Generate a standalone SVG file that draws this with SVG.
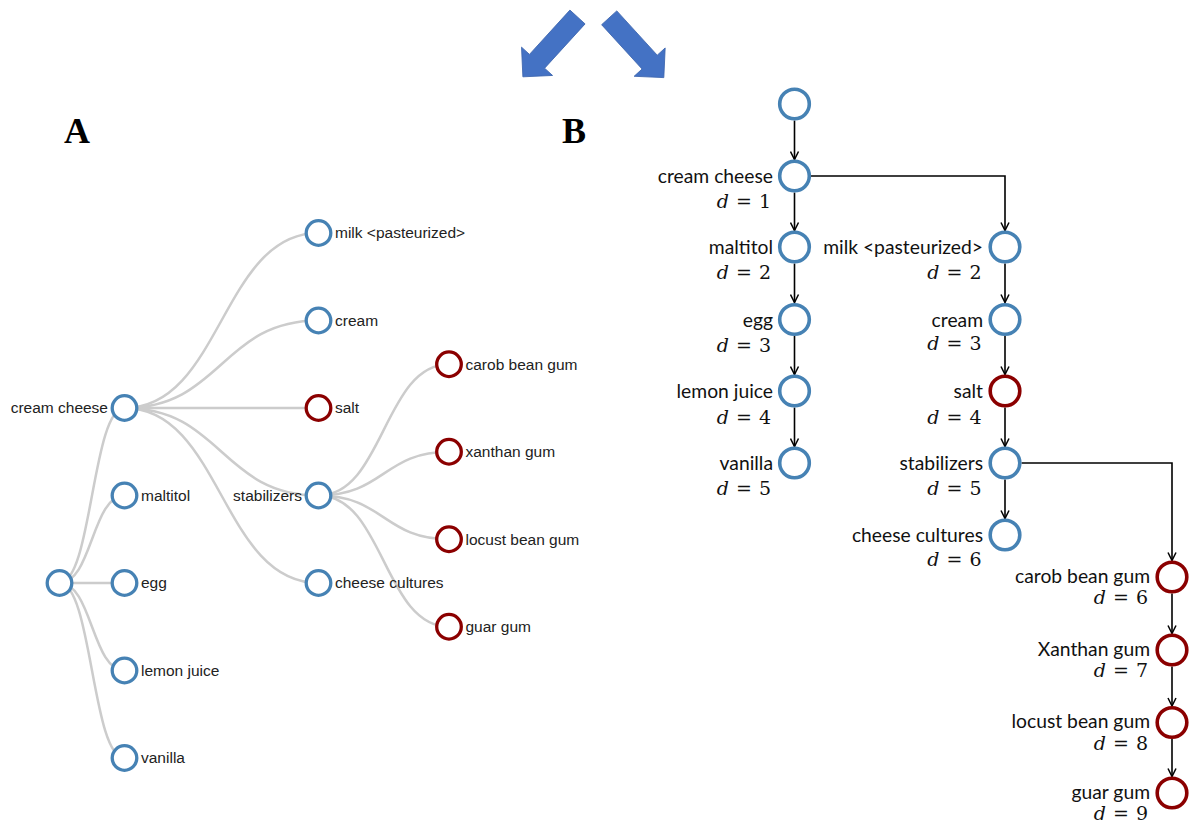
<svg xmlns="http://www.w3.org/2000/svg" width="1190" height="823" viewBox="0 0 1190 823">
<defs>
<style>
.bg{fill:#fff}
.lnk{fill:none;stroke:#ccc;stroke-width:2.5}
.na{fill:#fff;stroke:#4682b4;stroke-width:3.3}
.ra{fill:#fff;stroke:#8b0000;stroke-width:3.3}
.ta{font-family:"Liberation Sans",Arial,sans-serif;font-size:15.5px;fill:#222}
.nb{fill:#fff;stroke:#4682b4;stroke-width:3.6}
.rb{fill:#fff;stroke:#8b0000;stroke-width:3.6}
.tb{font-family:Lato,"Open Sans",sans-serif;font-size:19.3px;fill:#111;text-anchor:end}
.db{font-family:"DejaVu Serif","Liberation Serif",serif;font-size:19px;fill:#111;text-anchor:end;word-spacing:1px}
.db tspan{font-style:italic}
.edge{fill:none;stroke:#000;stroke-width:1.6;marker-end:url(#ah)}
.big{fill:#4472c4;stroke:#3b64ad;stroke-width:0.8}
.lab{font-family:"Liberation Serif","Times New Roman",serif;font-weight:bold;font-size:36px;fill:#000}
</style>
<marker id="ah" markerWidth="10" markerHeight="10" refX="9" refY="5" orient="auto" markerUnits="userSpaceOnUse" viewBox="0 0 10 10">
<path d="M1,1 L9,5 L1,9" fill="none" stroke="#000" stroke-width="1.5"/>
</marker>
<polygon id="bigArrow" points="-10.25,0 10.25,0 10.25,60 21,60 0,81 -21,60 -10.25,60"/>
</defs>
<rect class="bg" x="0" y="0" width="1190" height="823"/>

<g id="top-arrows">
<use href="#bigArrow" class="big" transform="translate(577.5,17) rotate(42.4)"/>
<use href="#bigArrow" class="big" transform="translate(609.2,17.8) rotate(-42.4)"/>
</g>

<text class="lab" x="64" y="143">A</text>
<text class="lab" x="562" y="143">B</text>

<!-- Panel A links -->
<g id="links-a">
<path class="lnk" d="M59.5,583 C92,583 92,408 124.5,408"/>
<path class="lnk" d="M59.5,583 C92,583 92,495.5 124.5,495.5"/>
<path class="lnk" d="M59.5,583 L124.5,583"/>
<path class="lnk" d="M59.5,583 C92,583 92,670.5 124.5,670.5"/>
<path class="lnk" d="M59.5,583 C92,583 92,758 124.5,758"/>
<path class="lnk" d="M124.5,408 C221.5,408 221.5,233 318.5,233"/>
<path class="lnk" d="M124.5,408 C221.5,408 221.5,320.5 318.5,320.5"/>
<path class="lnk" d="M124.5,408 L318.5,408"/>
<path class="lnk" d="M124.5,408 C221.5,408 221.5,495.5 318.5,495.5"/>
<path class="lnk" d="M124.5,408 C221.5,408 221.5,583 318.5,583"/>
<path class="lnk" d="M318.5,495.5 C383.75,495.5 383.75,364.25 449,364.25"/>
<path class="lnk" d="M318.5,495.5 C383.75,495.5 383.75,451.75 449,451.75"/>
<path class="lnk" d="M318.5,495.5 C383.75,495.5 383.75,539.25 449,539.25"/>
<path class="lnk" d="M318.5,495.5 C383.75,495.5 383.75,626.75 449,626.75"/>
</g>

<!-- Panel A nodes -->
<g id="a-root"><circle class="na" cx="59.5" cy="583" r="12.3"/></g>
<g id="a-cream-cheese"><circle class="na" cx="124.5" cy="408" r="12.3"/><text class="ta" x="108" y="408" dy="0.35em" text-anchor="end">cream cheese</text></g>
<g id="a-maltitol"><circle class="na" cx="124.5" cy="495.5" r="12.3"/><text class="ta" x="141" y="495.5" dy="0.35em">maltitol</text></g>
<g id="a-egg"><circle class="na" cx="124.5" cy="583" r="12.3"/><text class="ta" x="141" y="583" dy="0.35em">egg</text></g>
<g id="a-lemon-juice"><circle class="na" cx="124.5" cy="670.5" r="12.3"/><text class="ta" x="141" y="670.5" dy="0.35em">lemon juice</text></g>
<g id="a-vanilla"><circle class="na" cx="124.5" cy="758" r="12.3"/><text class="ta" x="141" y="758" dy="0.35em">vanilla</text></g>
<g id="a-milk"><circle class="na" cx="318.5" cy="233" r="12.3"/><text class="ta" x="335" y="233" dy="0.35em">milk &lt;pasteurized&gt;</text></g>
<g id="a-cream"><circle class="na" cx="318.5" cy="320.5" r="12.3"/><text class="ta" x="335" y="320.5" dy="0.35em">cream</text></g>
<g id="a-salt"><circle class="ra" cx="318.5" cy="408" r="12.3"/><text class="ta" x="335" y="408" dy="0.35em">salt</text></g>
<g id="a-stabilizers"><circle class="na" cx="318.5" cy="495.5" r="12.3"/><text class="ta" x="302" y="495.5" dy="0.35em" text-anchor="end">stabilizers</text></g>
<g id="a-cheese-cultures"><circle class="na" cx="318.5" cy="583" r="12.3"/><text class="ta" x="335" y="583" dy="0.35em">cheese cultures</text></g>
<g id="a-carob"><circle class="ra" cx="449" cy="364.25" r="12.3"/><text class="ta" x="465.5" y="364.25" dy="0.35em">carob bean gum</text></g>
<g id="a-xanthan"><circle class="ra" cx="449" cy="451.75" r="12.3"/><text class="ta" x="465.5" y="451.75" dy="0.35em">xanthan gum</text></g>
<g id="a-locust"><circle class="ra" cx="449" cy="539.25" r="12.3"/><text class="ta" x="465.5" y="539.25" dy="0.35em">locust bean gum</text></g>
<g id="a-guar"><circle class="ra" cx="449" cy="626.75" r="12.3"/><text class="ta" x="465.5" y="626.75" dy="0.35em">guar gum</text></g>

<!-- Panel B connectors -->
<g id="links-b">
<path class="edge" d="M794.5,120.5 V159.5"/>
<path class="edge" d="M794.5,192.5 V230.5"/>
<path class="edge" d="M794.5,263.5 V302.5"/>
<path class="edge" d="M794.5,336 V374.5"/>
<path class="edge" d="M794.5,407.5 V446.5"/>
<path class="edge" d="M811,176 H1005 V230.5"/>
<path class="edge" d="M1005,263.5 V302.5"/>
<path class="edge" d="M1005,336 V374.5"/>
<path class="edge" d="M1005,407.5 V446.5"/>
<path class="edge" d="M1005,479.5 V518.5"/>
<path class="edge" d="M1021.5,463 H1172 V560.5"/>
<path class="edge" d="M1172,593.5 V633.5"/>
<path class="edge" d="M1172,666.5 V706"/>
<path class="edge" d="M1172,739 V776.5"/>
</g>

<!-- Panel B nodes -->
<g id="b-root"><circle class="nb" cx="794.5" cy="104" r="14.8"/></g>
<g id="b-cream-cheese"><circle class="nb" cx="794.5" cy="176" r="14.8"/><text class="tb" x="773" y="183">cream cheese</text><text class="db" x="771" y="208"><tspan>d</tspan> = 1</text></g>
<g id="b-maltitol"><circle class="nb" cx="794.5" cy="247" r="14.8"/><text class="tb" x="773" y="254">maltitol</text><text class="db" x="771" y="279"><tspan>d</tspan> = 2</text></g>
<g id="b-egg"><circle class="nb" cx="794.5" cy="319.5" r="14.8"/><text class="tb" x="773" y="326.5">egg</text><text class="db" x="771" y="352"><tspan>d</tspan> = 3</text></g>
<g id="b-lemon-juice"><circle class="nb" cx="794.5" cy="391" r="14.8"/><text class="tb" x="773" y="398">lemon juice</text><text class="db" x="771" y="423.5"><tspan>d</tspan> = 4</text></g>
<g id="b-vanilla"><circle class="nb" cx="794.5" cy="463" r="14.8"/><text class="tb" x="773" y="470">vanilla</text><text class="db" x="771" y="495"><tspan>d</tspan> = 5</text></g>
<g id="b-milk"><circle class="nb" cx="1005" cy="247" r="14.8"/><text class="tb" x="983" y="254">milk &lt;pasteurized&gt;</text><text class="db" x="981.5" y="279"><tspan>d</tspan> = 2</text></g>
<g id="b-cream"><circle class="nb" cx="1005" cy="319.5" r="14.8"/><text class="tb" x="983" y="326.5">cream</text><text class="db" x="981.5" y="350"><tspan>d</tspan> = 3</text></g>
<g id="b-salt"><circle class="rb" cx="1005" cy="391" r="14.8"/><text class="tb" x="983" y="398">salt</text><text class="db" x="981.5" y="423.5"><tspan>d</tspan> = 4</text></g>
<g id="b-stabilizers"><circle class="nb" cx="1005" cy="463" r="14.8"/><text class="tb" x="983" y="470">stabilizers</text><text class="db" x="981.5" y="495"><tspan>d</tspan> = 5</text></g>
<g id="b-cheese-cultures"><circle class="nb" cx="1005" cy="535" r="14.8"/><text class="tb" x="983" y="542">cheese cultures</text><text class="db" x="981.5" y="566"><tspan>d</tspan> = 6</text></g>
<g id="b-carob"><circle class="rb" cx="1172" cy="577" r="14.8"/><text class="tb" x="1150" y="583">carob bean gum</text><text class="db" x="1148" y="604"><tspan>d</tspan> = 6</text></g>
<g id="b-xanthan"><circle class="rb" cx="1172" cy="650" r="14.8"/><text class="tb" x="1150" y="655.5">Xanthan gum</text><text class="db" x="1148" y="677"><tspan>d</tspan> = 7</text></g>
<g id="b-locust"><circle class="rb" cx="1172" cy="722.5" r="14.8"/><text class="tb" x="1150" y="728">locust bean gum</text><text class="db" x="1148" y="750"><tspan>d</tspan> = 8</text></g>
<g id="b-guar"><circle class="rb" cx="1172" cy="793" r="14.8"/><text class="tb" x="1150" y="798.5">guar gum</text><text class="db" x="1148" y="820"><tspan>d</tspan> = 9</text></g>
</svg>
